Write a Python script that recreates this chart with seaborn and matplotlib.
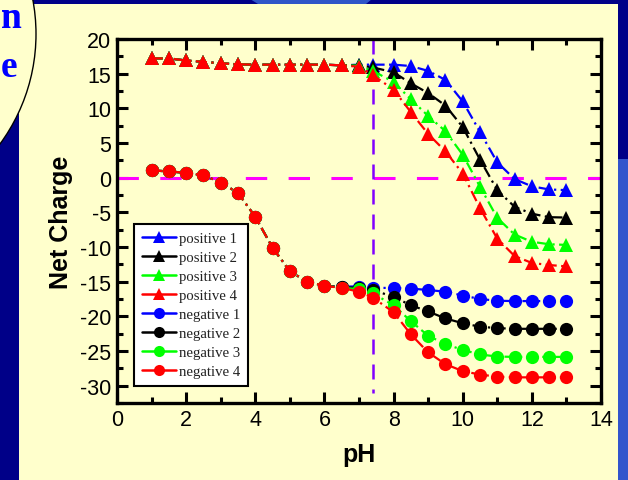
import numpy as np
import pandas as pd
import matplotlib
matplotlib.use("Agg")
import matplotlib.pyplot as plt
from matplotlib.lines import Line2D
from matplotlib.patches import Rectangle, Ellipse, Polygon
from matplotlib.ticker import MultipleLocator
import seaborn as sns

# pH grid of the titration points
ph = [1, 1.5, 2, 2.5, 3, 3.5, 4, 4.5, 5, 5.5, 6, 6.5, 7, 7.4,
      8, 8.5, 9, 9.5, 10, 10.5, 11, 11.5, 12, 12.5, 13]

# positive charge curves (triangles)
positive_1 = [17.2, 17.2, 16.9, 16.7, 16.5, 16.35, 16.3, 16.3, 16.3, 16.3, 16.3, 16.2, 16.3,
              16.3, 16.3, 16.1, 15.4, 14.1, 11.0, 6.6, 2.2, -0.2, -1.25, -1.7, -1.8]
positive_2 = [17.2, 17.2, 16.9, 16.7, 16.5, 16.35, 16.3, 16.3, 16.3, 16.3, 16.3, 16.2, 16.2,
              15.9, 15.2, 13.6, 12.2, 10.4, 7.3, 2.6, -1.8, -4.2, -5.2, -5.7, -5.75]
positive_3 = [17.2, 17.2, 16.9, 16.7, 16.5, 16.35, 16.3, 16.3, 16.3, 16.3, 16.3, 16.2, 16.15,
              15.4, 13.8, 11.3, 8.9, 6.7, 3.3, -1.3, -5.8, -8.2, -9.25, -9.6, -9.7]
positive_4 = [17.2, 17.2, 16.9, 16.7, 16.5, 16.35, 16.3, 16.3, 16.3, 16.3, 16.3, 16.2, 16.0,
              14.8, 12.7, 9.45, 6.3, 3.8, 0.6, -4.4, -8.8, -11.3, -12.3, -12.6, -12.8]

# negative charge curves (circles)
negative_1 = [1.05, 0.9, 0.7, 0.35, -0.7, -2.2, -5.65, -10.1, -13.5, -15.0, -15.6, -15.7, -15.7,
              -15.9, -15.9, -16.0, -16.2, -16.45, -17.0, -17.5, -17.75, -17.8, -17.8, -17.8, -17.8]
negative_2 = [1.05, 0.9, 0.7, 0.35, -0.7, -2.2, -5.65, -10.1, -13.5, -15.0, -15.6, -15.8, -15.9,
              -16.2, -17.2, -18.4, -19.3, -20.3, -21.0, -21.5, -21.7, -21.8, -21.8, -21.8, -21.8]
negative_3 = [1.05, 0.9, 0.7, 0.35, -0.7, -2.2, -5.65, -10.1, -13.5, -15.0, -15.6, -15.85, -16.1,
              -16.7, -18.4, -20.7, -22.8, -24.0, -24.85, -25.5, -25.8, -25.85, -25.85, -25.85, -25.85]
negative_4 = [1.05, 0.9, 0.7, 0.35, -0.7, -2.2, -5.65, -10.1, -13.5, -15.0, -15.6, -15.9, -16.45,
              -17.3, -19.4, -22.6, -25.2, -26.9, -27.9, -28.4, -28.7, -28.8, -28.8, -28.8, -28.8]

labels = ["positive 1", "positive 2", "positive 3", "positive 4",
          "negative 1", "negative 2", "negative 3", "negative 4"]
series = [positive_1, positive_2, positive_3, positive_4,
          negative_1, negative_2, negative_3, negative_4]
colors = ["#0000FF", "#000000", "#00FF00", "#FF0000"] * 2
markers = ["^"] * 4 + ["o"] * 4

physiological_ph = 7.4

sns.set_style("ticks")
plt.rcParams["font.family"] = ["Liberation Sans", "DejaVu Sans"]
plt.rcParams["axes.unicode_minus"] = False

fig = plt.figure(figsize=(6.28, 4.81), dpi=100)
fig.patch.set_facecolor("#000088")

# slide decoration around the chart
W, H = 628.0, 481.0
fig.patches.append(Rectangle((19 / W, 0), (618 - 19) / W, (481 - 5) / H,
                             transform=fig.transFigure, facecolor="#FFFFCC",
                             edgecolor="none", zorder=-3))
fig.patches.append(Rectangle((618 / W, 0), 10 / W, (481 - 160) / H,
                             transform=fig.transFigure, facecolor="#3355CC",
                             edgecolor="none", zorder=-3))
fig.patches.append(Polygon([(250 / W, 1), (372 / W, 1), (366 / W, 476 / H), (258 / W, 476 / H)],
                           closed=True, transform=fig.transFigure, facecolor="#2F55C8",
                           edgecolor="none", zorder=-3))
fig.patches.append(Ellipse((-150 / W, (481 - 35) / H), 372 / W, 372 / H,
                           transform=fig.transFigure, facecolor="#FFFFCC",
                           edgecolor="black", linewidth=1.0, zorder=-2))
fig.text(0.5 / W, 1 - 28 / H, "n", ha="left", va="baseline", color="#0000FF",
         fontsize=27, fontweight="bold", family=["Liberation Serif"], zorder=-1)
fig.text(0.5 / W, 1 - 77 / H, "e", ha="left", va="baseline", color="#0000FF",
         fontsize=27, fontweight="bold", family=["Liberation Serif"], zorder=-1)

ax = fig.add_axes([117 / W, 77 / H, (601 - 117) / W, (404 - 40) / H])
ax.set_zorder(5)
ax.set_facecolor("#FFFFCC")

for lab, vals, col, mk in zip(labels, series, colors, markers):
    df = pd.DataFrame({"pH": ph, "charge": vals})
    sns.lineplot(data=df, x="pH", y="charge", ax=ax, color=col, marker=mk,
                 markersize=9.5, markeredgewidth=0, linewidth=1.6,
                 linestyle=(0, (5, 2, 1, 2)), sort=False, estimator=None,
                 zorder=3)

ax.axhline(0, color="#FF00FF", linewidth=2.2, linestyle=(0, (7, 7)), zorder=2)
ax.plot([physiological_ph, physiological_ph], [20, -31], color="#8000FF",
        linewidth=1.8, linestyle=(0, (6, 4)), zorder=2)

ax.set_xlim(0, 14)
ax.set_ylim(-32.5, 20)
ax.xaxis.set_major_locator(MultipleLocator(2))
ax.xaxis.set_minor_locator(MultipleLocator(1))
ax.yaxis.set_major_locator(MultipleLocator(5))
ax.yaxis.set_minor_locator(MultipleLocator(2.5))
ax.tick_params(which="both", direction="in", top=True, right=True, width=2.2,
               colors="black", labelcolor="black", labelsize=15.5, pad=4)
ax.tick_params(which="major", length=8)
ax.tick_params(which="minor", length=4.5)
for sp in ax.spines.values():
    sp.set_linewidth(2.4)
    sp.set_color("black")

ax.set_xlabel("pH", fontsize=18, fontweight="bold", labelpad=9, color="black")
ax.set_ylabel("Net Charge", fontsize=18, fontweight="bold", labelpad=5, color="black")

handles = [Line2D([0], [0], color=c, marker=m, markersize=8, markeredgewidth=0,
                  linewidth=1.8) for c, m in zip(colors, markers)]
leg = ax.legend(handles, labels, loc="lower left", bbox_to_anchor=(0.035, 0.047),
                prop={"family": "Liberation Serif", "size": 10.6}, frameon=True,
                fancybox=False, framealpha=1, edgecolor="black", handlelength=2.3,
                handletextpad=0.2, labelspacing=0.38, borderpad=0.55,
                borderaxespad=0)
leg.get_frame().set_linewidth(1.5)
for t in leg.get_texts():
    t.set_color("#222222")

fig.savefig("out.png", dpi=100, facecolor=fig.get_facecolor())
